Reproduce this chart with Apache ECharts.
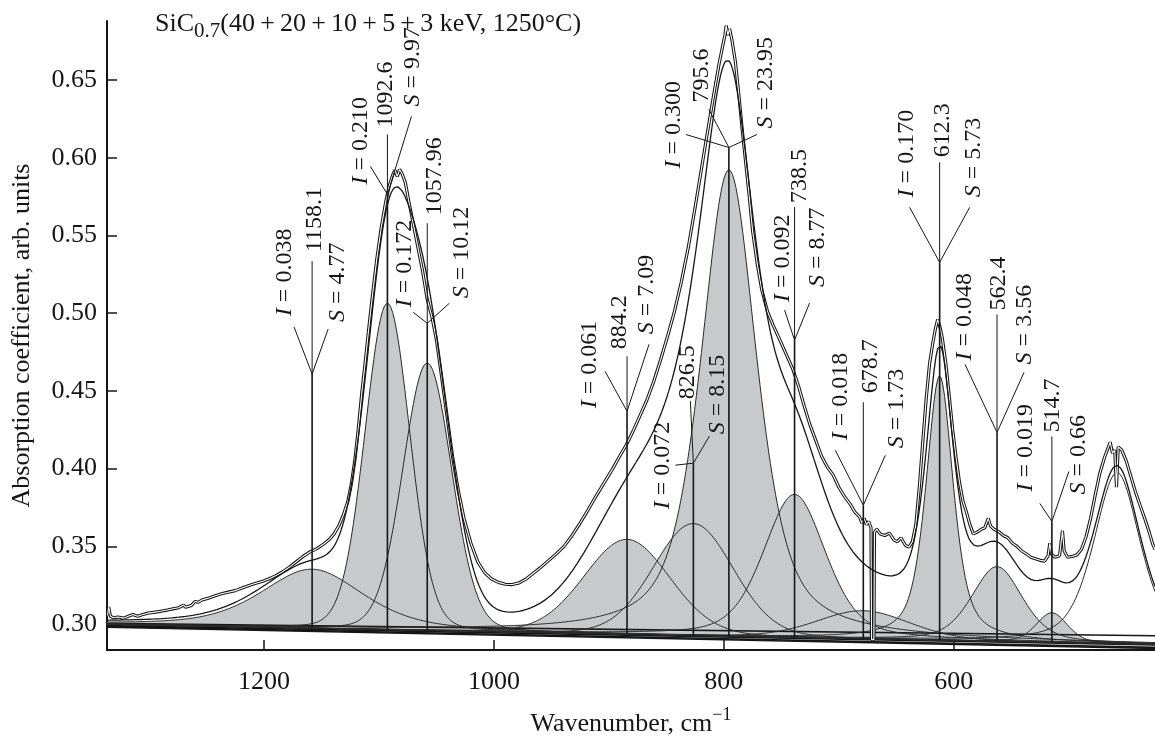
<!DOCTYPE html>
<html>
<head>
<meta charset="utf-8">
<script src="https://cdn.jsdelivr.net/npm/echarts@6/dist/echarts.min.js"></script>
<style>
  html, body { margin: 0; padding: 0; background: #fff; }
  #chart { width: 1155px; height: 747px; }
</style>
</head>
<body>
<div id="chart"></div>
<script>
// Axis extents and tick values
const xRange = [425, 1336.5];
const yRange = [0.2833, 0.688];
const xTicks = [1200, 1000, 800, 600];
const yTicks = [0.30, 0.35, 0.40, 0.45, 0.50, 0.55, 0.60, 0.65];

// Fitted band components: position (cm-1), intensity I, area S, width, Lorentz share
const peakCenters = [1158.1, 1092.6, 1057.96, 884.2, 826.5, 795.6, 738.5, 678.7, 612.3, 562.4, 514.7, 458.0];
const peakLabels  = ['1158.1', '1092.6', '1057.96', '884.2', '826.5', '795.6', '738.5', '678.7', '612.3', '562.4', '514.7', ''];
const peakHeights = [0.038, 0.210, 0.172, 0.061, 0.072, 0.300, 0.092, 0.018, 0.170, 0.048, 0.019, 0.110];
const peakAreas   = ['4.77', '9.97', '10.12', '7.09', '8.15', '23.95', '8.77', '1.73', '5.73', '3.56', '0.66', ''];
const peakWidths  = [105, 46, 50, 88, 82, 58, 64, 95, 28, 52, 32, 48];
const peakLorentz = [0.5, 0.1, 0.1, 0.1, 0.1, 0.6, 0.4, 0.2, 0.6, 0.4, 0.3, 0.5];
const peakFilled  = [1, 1, 1, 1, 1, 1, 1, 1, 1, 1, 1, 0];

// Sloping baseline under the components (ends of the range)
const baseX = [1336.5, 425];
const baseY = [0.2998, 0.2870];
// Neighbouring baseline traces forming the dark band at the bottom
const baseTraceLeft  = [0.3004, 0.2990, 0.2984, 0.2979];
const baseTraceRight = [0.2925, 0.2865, 0.2850, 0.2843];

// Measured absorption spectrum [wavenumber, absorption]
const measuredSpectrum = [
  [1336, 0.3055], [1335, 0.3110], [1333.5, 0.3050], [1331, 0.3040], [1327, 0.3045], [1322, 0.3038],
  [1318, 0.3050], [1314, 0.3062], [1310, 0.3050], [1306, 0.3060], [1301, 0.3070], [1296, 0.3075],
  [1290, 0.3082], [1284, 0.3090], [1279, 0.3098], [1274, 0.3105], [1270, 0.3122], [1268, 0.3108],
  [1263, 0.3120], [1260, 0.3145], [1257, 0.3140], [1254, 0.3155], [1249, 0.3165], [1243, 0.3180],
  [1237, 0.3195], [1231, 0.3205], [1225, 0.3215], [1219, 0.3232], [1213, 0.3248], [1207, 0.3262],
  [1201, 0.3275], [1196, 0.3290], [1190, 0.3310], [1184, 0.3335], [1178, 0.3365], [1172, 0.3400],
  [1166, 0.3435], [1160, 0.3464], [1154, 0.3485], [1148, 0.3515], [1143, 0.3545], [1139, 0.3580],
  [1135, 0.3630], [1131, 0.3700], [1127, 0.3790], [1124, 0.3900], [1121, 0.4050], [1118, 0.4250],
  [1115, 0.4480], [1112, 0.4680], [1109, 0.4890], [1106, 0.5090], [1102, 0.5340], [1098, 0.5550],
  [1094, 0.5720], [1091, 0.5820], [1088, 0.5890], [1086, 0.5920], [1084, 0.5880], [1082, 0.5925],
  [1080, 0.5900], [1077, 0.5840], [1074, 0.5720], [1070, 0.5570], [1066, 0.5420], [1062, 0.5270],
  [1058, 0.5090], [1054, 0.4980], [1050, 0.4830], [1046, 0.4620], [1041, 0.4350], [1036, 0.4080],
  [1031, 0.3860], [1026, 0.3680], [1020, 0.3520], [1014, 0.3400], [1008, 0.3330], [1002, 0.3290],
  [996, 0.3268], [990, 0.3256], [984, 0.3254], [978, 0.3265], [972, 0.3290], [966, 0.3325],
  [960, 0.3360], [953, 0.3405], [946, 0.3450], [939, 0.3500], [932, 0.3570], [925, 0.3650],
  [918, 0.3735], [911, 0.3825], [904, 0.3910], [897, 0.3995], [891, 0.4075], [885, 0.4150],
  [879, 0.4240], [873, 0.4340], [867, 0.4440], [861, 0.4560], [855, 0.4700], [849, 0.4850],
  [843, 0.5010], [837, 0.5200], [831, 0.5420], [825, 0.5680], [819, 0.5950], [813, 0.6220],
  [808, 0.6440], [804, 0.6610], [801, 0.6720], [799, 0.6790], [798, 0.6850], [796.5, 0.6790],
  [795, 0.6830], [793, 0.6760], [790, 0.6620], [787, 0.6410], [784, 0.6180], [781, 0.5970],
  [778, 0.5760], [775, 0.5530], [771, 0.5320], [767, 0.5150], [762, 0.5010], [757, 0.4920],
  [752, 0.4840], [746, 0.4740], [740, 0.4640], [735, 0.4530], [730, 0.4400], [725, 0.4280],
  [720, 0.4180], [715, 0.4080], [710, 0.4010], [705, 0.3960], [700, 0.3880], [695, 0.3820],
  [690, 0.3770], [686, 0.3720], [682, 0.3690], [680, 0.3650], [678, 0.3680], [676, 0.3640],
  [674, 0.3660], [672, 0.3620], [671.5, 0.2900], [669.5, 0.2900], [669, 0.3590], [667, 0.3610],
  [664, 0.3580], [660, 0.3570], [656, 0.3585], [652, 0.3540], [649, 0.3530], [646, 0.3555],
  [642, 0.3505], [639, 0.3495], [636, 0.3530], [633, 0.3640], [630, 0.3880], [627, 0.4170],
  [624, 0.4450], [621, 0.4680], [618, 0.4820], [616, 0.4900], [614, 0.4960], [612, 0.4910],
  [610, 0.4840], [607, 0.4680], [604, 0.4470], [601, 0.4250], [598, 0.4070], [595, 0.3910],
  [592, 0.3790], [589, 0.3720], [586, 0.3640], [583, 0.3580], [580, 0.3590], [576, 0.3610],
  [573, 0.3620], [570, 0.3680], [568, 0.3630], [565, 0.3610], [561, 0.3595], [557, 0.3570],
  [553, 0.3555], [549, 0.3520], [545, 0.3500], [541, 0.3470], [537, 0.3452], [533, 0.3430],
  [529, 0.3420], [525, 0.3410], [521, 0.3405], [518, 0.3440], [516.5, 0.3520], [515, 0.3450],
  [512, 0.3430], [508, 0.3440], [505.5, 0.3600], [504, 0.3470], [501, 0.3430], [497, 0.3435],
  [493, 0.3445], [489, 0.3480], [485, 0.3560], [481, 0.3680], [477, 0.3830], [473, 0.3970],
  [469, 0.4070], [466, 0.4130], [464, 0.4170], [462, 0.4100], [460, 0.4120], [458.5, 0.3880],
  [457, 0.4140], [454, 0.4120], [450, 0.4050], [446, 0.3950], [442, 0.3850], [438, 0.3764],
  [434, 0.3680], [430, 0.3590], [427, 0.3514], [425, 0.3480]
];

// Annotation layout: fork height (absorption units) and pixel offsets of the
// three leader lines (l, m, r) and the three rotated texts (ti, tc, ts)
const labelLayout = [
  { fork: 0.4608, l: [-18, -47], m: [0, -113], r: [16, -45], ti: [-27, -58], tc: [3, -122], ts: [26, -52] },
  { fork: 0.5764, l: [-17, -28], m: [0, -60],  r: [24, -78], ti: [-27, -10], tc: [-2, -67], ts: [25, -88] },
  { fork: 0.4935, l: [-14, -11], m: [0, -100], r: [22, -20], ti: [-23, -16], tc: [7, -108], ts: [34, -25] },
  { fork: 0.4369, l: [-22, -40], m: [0, -55],  r: [22, -67], ti: [-37, -3],  tc: [-7, -62], ts: [20, -77] },
  { fork: 0.4035, l: [-18, 2],   m: [-3, -62], r: [16, -27], ti: [-31, 46],  tc: [-6, -64], ts: [24, -29] },
  { fork: 0.6066, l: [-43, -13], m: [-20, -38], r: [28, -13], ti: [-55, 21], tc: [-27, -45], ts: [37, -19] },
  { fork: 0.4827, l: [-10, -30], m: [0, -133], r: [15, -37], ti: [-12, -38], tc: [5, -137], ts: [23, -53] },
  { fork: 0.3764, l: [-28, -55], m: [0, -103], r: [22, -50], ti: [-23, -65], tc: [7, -112], ts: [33, -57] },
  { fork: 0.5327, l: [-30, -55], m: [0, -100], r: [30, -55], ti: [-33, -65], tc: [3, -105], ts: [34, -65] },
  { fork: 0.4233, l: [-32, -68], m: [0, -118], r: [27, -60], ti: [-32, -72], tc: [2, -122], ts: [28, -68] },
  { fork: 0.3660, l: [-12, -18], m: [0, -85],  r: [17, -50], ti: [-26, -30], tc: [1, -89],  ts: [27, -27] }
];

const FONT = "'Liberation Serif', 'DejaVu Serif', 'Times New Roman', serif";
const INK = '#161616';
const GRAY = '#c8c9cb';

function baseline(x) {
  return baseY[0] + (x - baseX[0]) * (baseY[1] - baseY[0]) / (baseX[1] - baseX[0]);
}
// pseudo-Voigt band profile above the baseline
function component(i, x) {
  const d = (x - peakCenters[i]) / peakWidths[i];
  const g = Math.exp(-4 * Math.LN2 * d * d);
  const l = 1 / (1 + 4 * d * d);
  const e = peakLorentz[i];
  return peakHeights[i] * ((1 - e) * g + e * l);
}

// evaluation grid along the wavenumber axis
const grid = [];
for (let x = xRange[0]; x < xRange[1]; x += 1.5) grid.push(x);
grid.push(xRange[1]);

const fitCurve = grid.map(x => {
  let s = baseline(x);
  for (let i = 0; i < peakCenters.length; i++) s += component(i, x);
  return [x, s];
});

const peakItems = peakCenters.map((c, i) => [c, peakHeights[i], i]);

const baseTraces = baseTraceLeft.map((v, k) => ({
  type: 'line', silent: true, z: 4, symbol: 'none', animation: false,
  data: [[xRange[1], v], [xRange[0], baseTraceRight[k]]],
  lineStyle: { color: INK, width: 1.6 }
}));

const chart = echarts.init(document.getElementById('chart'), null, { renderer: 'canvas' });

chart.setOption({
  animation: false,
  backgroundColor: '#fff',
  grid: { left: 107, right: 0, top: 21, bottom: 78, containLabel: false },
  graphic: [{
    type: 'text', left: 155, top: 6, z: 100,
    style: {
      text: 'SiC{sub|0.7}(40\u2009+\u200920\u2009+\u200910\u2009+\u20095\u2009+\u20093 keV, 1250°C)',
      fontFamily: FONT, fontSize: 26, lineHeight: 36, fill: INK,
      rich: { sub: { fontFamily: FONT, fontSize: 21, lineHeight: 18, verticalAlign: 'bottom', fill: INK } }
    }
  }],
  xAxis: {
    type: 'value', inverse: true, min: xRange[0], max: xRange[1],
    splitLine: { show: false },
    axisLine: { show: true, onZero: false, lineStyle: { color: INK, width: 2 } },
    axisTick: { show: true, inside: true, length: 10, lineStyle: { color: INK, width: 1.5 }, customValues: xTicks },
    axisLabel: { customValues: xTicks, fontFamily: FONT, fontSize: 26, color: INK, margin: 19,
      formatter: v => String(v) },
    name: 'Wavenumber, cm{sup|\u22121}', nameLocation: 'middle', nameGap: 56,
    nameTextStyle: {
      fontFamily: FONT, fontSize: 26, color: INK, lineHeight: 36,
      rich: { sup: { fontFamily: FONT, fontSize: 18, lineHeight: 22, verticalAlign: 'top', color: INK } }
    }
  },
  yAxis: {
    type: 'value', min: yRange[0], max: yRange[1],
    splitLine: { show: false },
    axisLine: { show: true, onZero: false, lineStyle: { color: INK, width: 2 } },
    axisTick: { show: true, inside: true, length: 10, lineStyle: { color: INK, width: 1.5 }, customValues: yTicks },
    axisLabel: { customValues: yTicks, fontFamily: FONT, fontSize: 26, color: INK, margin: 10,
      formatter: v => v.toFixed(2) },
    name: 'Absorption coefficient, arb. units', nameLocation: 'middle', nameGap: 72, nameRotate: 90,
    nameTextStyle: { fontFamily: FONT, fontSize: 26, color: INK }
  },
  series: [
    // grey filled components
    {
      type: 'custom', coordinateSystem: 'cartesian2d', silent: true, z: 2,
      data: peakItems.filter(d => peakFilled[d[2]]),
      encode: { x: 0, y: 1 },
      renderItem(params, api) {
        const i = api.value(2);
        const top = [], bottom = [];
        for (const x of grid) {
          const v = component(i, x);
          if (v < 1e-4) continue;
          top.push(api.coord([x, baseline(x) + v]));
          bottom.push(api.coord([x, baseline(x)]));
        }
        return { type: 'polygon', shape: { points: top.concat(bottom.reverse()) },
                 style: { fill: GRAY, stroke: null } };
      }
    },
    ...baseTraces,
    // component outlines
    {
      type: 'custom', coordinateSystem: 'cartesian2d', silent: true, z: 5,
      data: peakItems,
      encode: { x: 0, y: 1 },
      renderItem(params, api) {
        const i = api.value(2);
        const pts = grid.map(x => api.coord([x, baseline(x) + component(i, x)]));
        return { type: 'polyline', shape: { points: pts },
                 style: { stroke: '#2a2a2a', lineWidth: 1, fill: null } };
      }
    },
    // measured spectrum, drawn as a double trace
    {
      type: 'line', silent: true, z: 6, symbol: 'none', data: measuredSpectrum,
      lineStyle: { color: INK, width: 3.2 }
    },
    {
      type: 'line', silent: true, z: 7, symbol: 'none', data: measuredSpectrum,
      lineStyle: { color: '#ffffff', width: 1.1 }
    },
    // sum of the components
    {
      type: 'line', silent: true, z: 8, symbol: 'none', data: fitCurve,
      lineStyle: { color: INK, width: 1.3 }
    },
    // band position markers with I / position / S labels
    {
      type: 'custom', coordinateSystem: 'cartesian2d', silent: true, z: 9,
      data: labelLayout.map((L, k) => [peakCenters[k], L.fork, k]),
      encode: { x: 0, y: 1 },
      renderItem(params, api) {
        const k = api.value(2);
        const L = labelLayout[k];
        const c = peakCenters[k];
        const p = api.coord([c, L.fork]);
        const q = api.coord([c, baseline(c)]);
        const seg = (a, b, w) => ({ type: 'line', shape: { x1: a[0], y1: a[1], x2: b[0], y2: b[1] },
                                    style: { stroke: INK, lineWidth: w } });
        const off = d => [p[0] + d[0], p[1] + d[1]];
        const txt = (d, s) => ({
          type: 'text', x: p[0] + d[0], y: p[1] + d[1], rotation: Math.PI / 2,
          style: {
            text: s, fontFamily: FONT, fontSize: 24, fill: INK,
            align: 'left', verticalAlign: 'middle',
            rich: { it: { fontFamily: FONT, fontSize: 24, fontStyle: 'italic', fill: INK } }
          }
        });
        return {
          type: 'group',
          children: [
            seg(q, p, 1.6),
            seg(p, off(L.l), 1),
            seg(p, off(L.m), 1),
            seg(p, off(L.r), 1),
            txt(L.ti, '{it|I} = ' + peakHeights[k].toFixed(3)),
            txt(L.tc, peakLabels[k]),
            txt(L.ts, '{it|S} = ' + peakAreas[k])
          ]
        };
      }
    }
  ]
});
</script>
</body>
</html>
